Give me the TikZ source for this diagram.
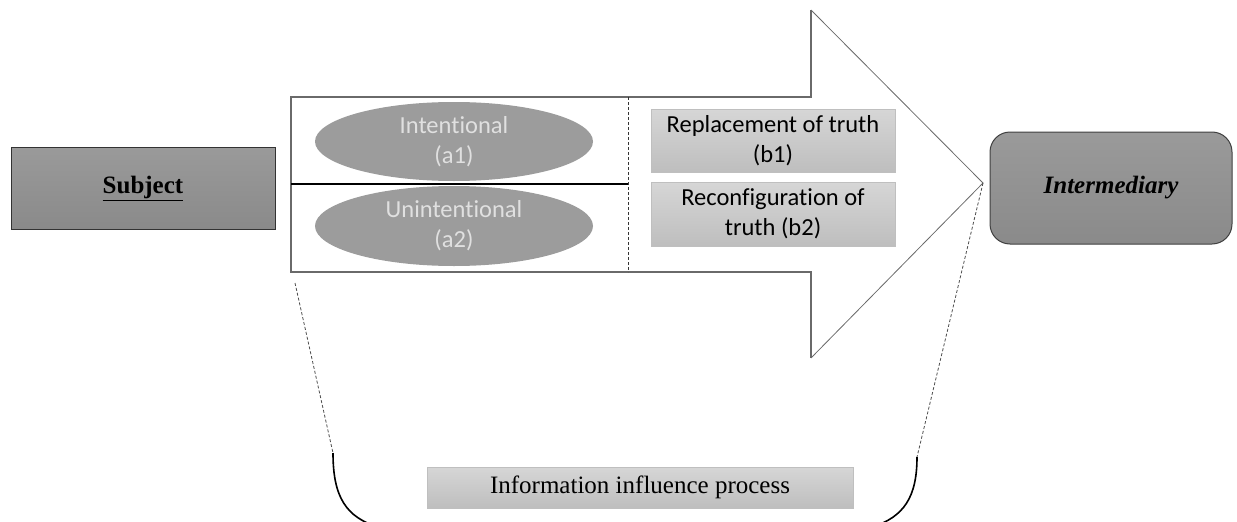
\documentclass[tikz,border=0pt]{standalone}
\usepackage{fontspec}
\setmainfont{Liberation Serif}[Ligatures={TeX,NoCommon}]
\newfontfamily\calibrifont{Carlito}[Ligatures=NoCommon]
\usetikzlibrary{shapes.geometric}

\definecolor{darkbox}{HTML}{9A9A9A}
\definecolor{darkboxlow}{HTML}{8A8A8A}
\definecolor{lightbox}{HTML}{D6D6D6}
\definecolor{lightboxlow}{HTML}{BEBEBE}
\definecolor{ovalgray}{HTML}{9C9C9C}
\definecolor{outline}{HTML}{6A6A6A}

\tikzset{
  darkrect/.style={rectangle, draw=black!80, line width=1pt,
    top color=darkbox, bottom color=darkboxlow,
    font=\fontsize{25}{29}\selectfont\bfseries},
  roundrect/.style={darkrect, rounded corners=20pt, draw=black!75,
    font=\fontsize{25}{29}\selectfont\bfseries\itshape},
  oval/.style={ellipse, fill=ovalgray, draw=none, inner sep=0pt,
    minimum width=278pt, text=white!88!black, align=center,
    font=\calibrifont\fontsize{24.5}{30}\selectfont},
  lightrect/.style={rectangle, draw=black!25, line width=0.8pt,
    top color=lightbox, bottom color=lightboxlow, align=center,
    minimum width=244pt, inner sep=0pt,
    font=\calibrifont\fontsize{24.5}{30.5}\selectfont},
  inforect/.style={rectangle, draw=black!25, line width=0.8pt,
    top color=lightbox, bottom color=lightboxlow,
    minimum width=426pt, minimum height=41pt, inner sep=0pt,
    font=\fontsize{25}{29}\selectfont},
  arrowline/.style={draw=outline, line width=1.4pt, line join=miter},
  thinline/.style={draw=outline, line width=0.8pt},
  guide/.style={draw=black!70, line width=0.8pt, dash pattern=on 3pt off 2pt},
  bracket/.style={draw=black, line width=1.6pt}
}

\begin{document}
\begin{tikzpicture}[x=1pt, y=-1pt]
  \useasboundingbox (0,0) rectangle (1237,522);

  % the big process arrow
  \coordinate (tip) at (983,183);
  \draw[arrowline] (811,10) -- (811,97) -- (291,97) -- (291,272) -- (811,272) -- (811,358);
  \draw[thinline] (811,10) -- (tip) -- (811,358);

  % divider between the two kinds of influence
  \draw[black, line width=1.6pt] (291,184) -- (628,184);
  \draw[guide, draw=black!80] (628,97) -- (628,272);

  % end nodes
  \node[darkrect, minimum width=264pt, minimum height=82pt] (subject) at (143,188) {\underline{Subject}};
  \node[roundrect, minimum width=242pt, minimum height=112pt] (inter) at (1111,188) {Intermediary};

  % forms of influence
  \node[oval, minimum height=79pt] (a1) at (454,141.5) {Intentional\\(a1)};
  \node[oval, minimum height=80pt] (a2) at (454,226) {Unintentional\\(a2)};

  % effects on truth
  \node[lightrect, minimum height=63pt] (b1) at (773,140.5) {Replacement of truth\\(b1)};
  \node[lightrect, minimum height=64pt] (b2) at (773,214) {Reconfiguration of\\truth (b2)};

  % process label and its bracket
  \node[inforect] (info) at (640,487.5) {Information influence process};

  \coordinate (lt) at (295,283);
  \coordinate (lb) at (333,453);
  \coordinate (rb) at (917,457);
  \draw[guide] (lt) -- (lb);
  \draw[guide] (tip) -- (rb);
  \draw[bracket] (lb) .. controls (333,497) and (346,517) .. (378,527)
    -- (872,527) .. controls (904,517) and (917,497) .. (rb);
\end{tikzpicture}
\end{document}
